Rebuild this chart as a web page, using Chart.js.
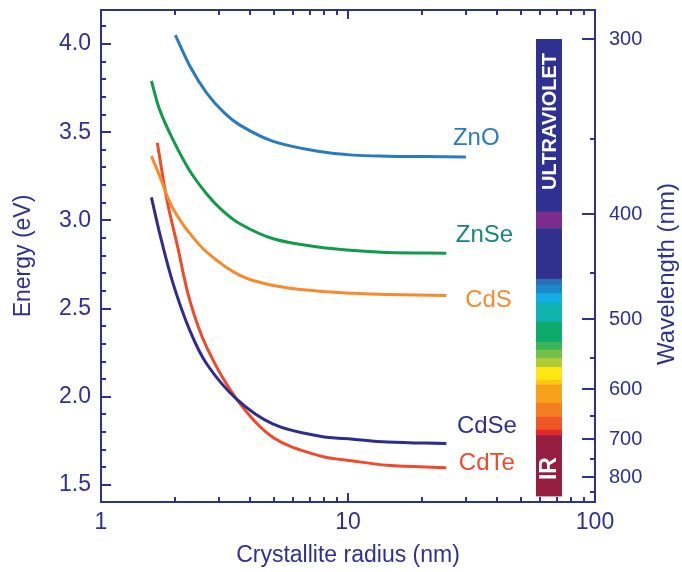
<!DOCTYPE html>
<html>
<head>
<meta charset="utf-8">
<script src="https://cdn.jsdelivr.net/npm/chart.js@4.4.1/dist/chart.umd.min.js"></script>
<style>
  html, body { margin: 0; padding: 0; background: #fff; }
  #chart { display: block; }
</style>
</head>
<body>
<canvas id="chart" width="682" height="572"></canvas>
<script>
const AXIS_COLOR = '#2e3192';
const FONT = "'Liberation Sans', Arial, sans-serif";

// band gap energy (eV) vs crystallite radius (nm)
const znoRadius = [2.0, 2.3, 2.68, 3.13, 3.65, 4.98, 7.7, 10.5, 14.4, 20, 30];
const znoEnergy = [4.05, 3.87, 3.722, 3.615, 3.54, 3.448, 3.39, 3.37, 3.364, 3.362, 3.36];

const znseRadius = [1.6, 1.73, 1.96, 2.29, 2.68, 3.08, 3.65, 4.98, 7.7, 10.5, 14.4, 25];
const znseEnergy = [3.79, 3.625, 3.455, 3.28, 3.15, 3.06, 2.981, 2.896, 2.848, 2.83, 2.818, 2.814];

const cdsRadius = [1.6, 1.73, 1.85, 1.96, 2.22, 2.68, 3.65, 4.98, 7.7, 10.5, 14.4, 25];
const cdsEnergy = [3.364, 3.25, 3.14, 3.065, 2.95, 2.82, 2.688, 2.631, 2.598, 2.587, 2.58, 2.574];

const cdseRadius = [1.6, 1.73, 1.96, 2.29, 2.68, 3.54, 4.98, 7.7, 10.5, 14.4, 25];
const cdseEnergy = [3.13, 2.924, 2.64, 2.375, 2.186, 1.987, 1.845, 1.776, 1.76, 1.744, 1.735];

const cdteRadius = [1.69, 1.85, 2.03, 2.29, 2.68, 3.54, 4.98, 7.7, 10.5, 14.4, 25];
const cdteEnergy = [3.44, 3.114, 2.868, 2.545, 2.28, 1.987, 1.769, 1.665, 1.636, 1.612, 1.598];

const materialNames = ['ZnO', 'ZnSe', 'CdS', 'CdSe', 'CdTe'];
const lineColors = ['#2a7ac0', '#0f9b4a', '#f78a2c', '#2f2c8e', '#f04a2a'];
const labelColors = ['#2a7ac0', '#15877f', '#f78a2c', '#2e3192', '#f04a2a'];
const labelRadius = [26.6, 27.3, 29.8, 27.6, 28.1];
const labelEnergy = [3.463, 2.915, 2.545, 1.835, 1.625];

// axis ticks
const radiusLabels = [1, 10, 100];
const radiusMinor = [2, 3, 4, 5, 6, 7, 8, 9, 20, 30, 40, 50, 60, 70, 80, 90];
const energyMajor = [1.5, 2.0, 2.5, 3.0, 3.5, 4.0];
const energyMinor = [1.6, 1.7, 1.8, 1.9, 2.1, 2.2, 2.3, 2.4, 2.6, 2.7, 2.8, 2.9, 3.1, 3.2, 3.3, 3.4, 3.6, 3.7, 3.8, 3.9, 4.1];
const wavelengthMajor = [300, 400, 500, 600, 700, 800];
const wavelengthMinor = [350, 450, 550, 650, 750, 850];

// spectrum bar (wavelength bands, nm)
const spectrumFrom = [300, 398, 411, 456, 462, 471, 481, 503, 528, 539, 551, 564, 584, 592, 624, 651, 678, 690];
const spectrumTo = [398, 411, 456, 462, 471, 481, 503, 528, 539, 551, 564, 584, 592, 624, 651, 678, 690, 862];
const spectrumColors = ['#2e3192', '#7b2d8e', '#30308f', '#2d6db3', '#1a88ca', '#13aee4', '#10b3ad', '#0eaa6c',
    '#3cb45a', '#74bf44', '#b1cb36', '#ffe70f', '#fdc816', '#f8a21c', '#f47e22', '#ef5726', '#e4292b', '#951d3f'];
const spectrumRadius = [57.7, 73.5];

const radiusSeries = [znoRadius, znseRadius, cdsRadius, cdseRadius, cdteRadius];
const energySeries = [znoEnergy, znseEnergy, cdsEnergy, cdseEnergy, cdteEnergy];

const toWavenumber = (nm) => 1000 / nm;

const datasets = materialNames.map((name, i) => ({
    label: name,
    data: radiusSeries[i].map((r, k) => ({ x: r, y: energySeries[i][k] })),
    borderColor: lineColors[i],
    borderWidth: 3,
    pointRadius: 0,
    fill: false,
    tension: 0.35,
    yAxisID: 'y'
}));

const spectrumPlugin = {
    id: 'spectrum',
    beforeDatasetsDraw(chart) {
        const { ctx, scales: { x, y2 } } = chart;
        const left = x.getPixelForValue(spectrumRadius[0]);
        const right = x.getPixelForValue(spectrumRadius[1]);
        ctx.save();
        spectrumColors.forEach((color, i) => {
            const top = y2.getPixelForValue(toWavenumber(spectrumFrom[i]));
            const bottom = y2.getPixelForValue(toWavenumber(spectrumTo[i]));
            ctx.fillStyle = color;
            ctx.fillRect(left, top, right - left, bottom - top + 0.5);
        });
        const cx = (left + right) / 2;
        ctx.fillStyle = '#ffffff';
        ctx.textAlign = 'center';
        ctx.textBaseline = 'middle';
        [['ULTRAVIOLET', 340, 20], ['IR', 775, 23]].forEach(([text, nm, size]) => {
            ctx.save();
            ctx.translate(cx + 1, y2.getPixelForValue(toWavenumber(nm)));
            ctx.rotate(-Math.PI / 2);
            ctx.font = `bold ${size}px ${FONT}`;
            ctx.fillText(text, 0, 0);
            ctx.restore();
        });
        ctx.restore();
    }
};

const framePlugin = {
    id: 'frame',
    afterDraw(chart) {
        const { ctx, chartArea: a, scales: { x, y, y2 } } = chart;
        ctx.save();
        ctx.strokeStyle = AXIS_COLOR;
        ctx.lineWidth = 2;

        ctx.beginPath();
        ctx.moveTo(a.left - 1, a.top);
        ctx.lineTo(a.right + 1, a.top);
        ctx.stroke();

        ctx.beginPath();
        radiusMinor.concat([10]).forEach((v) => {
            const len = v === 10 ? 9 : 5;
            const px = Math.round(x.getPixelForValue(v));
            ctx.moveTo(px, a.bottom);
            ctx.lineTo(px, a.bottom - len);
            ctx.moveTo(px, a.top);
            ctx.lineTo(px, a.top + len);
        });
        ctx.stroke();

        ctx.beginPath();
        energyMajor.forEach((v) => {
            const py = Math.round(y.getPixelForValue(v));
            ctx.moveTo(a.left, py);
            ctx.lineTo(a.left + 10, py);
        });
        energyMinor.forEach((v) => {
            const py = Math.round(y.getPixelForValue(v));
            ctx.moveTo(a.left, py);
            ctx.lineTo(a.left + 5, py);
        });
        wavelengthMajor.forEach((nm) => {
            const py = Math.round(y2.getPixelForValue(toWavenumber(nm)));
            ctx.moveTo(a.right, py);
            ctx.lineTo(a.right - 13, py);
        });
        wavelengthMinor.forEach((nm) => {
            const py = Math.round(y2.getPixelForValue(toWavenumber(nm)));
            ctx.moveTo(a.right, py);
            ctx.lineTo(a.right - 5, py);
        });
        ctx.stroke();

        // curve labels
        ctx.font = `24px ${FONT}`;
        ctx.textAlign = 'left';
        ctx.textBaseline = 'middle';
        materialNames.forEach((name, i) => {
            ctx.fillStyle = labelColors[i];
            ctx.fillText(name, x.getPixelForValue(labelRadius[i]), y.getPixelForValue(labelEnergy[i]));
        });

        // right axis title, reading bottom to top
        ctx.save();
        ctx.translate(667, 274);
        ctx.rotate(-Math.PI / 2);
        ctx.textAlign = 'center';
        ctx.fillStyle = AXIS_COLOR;
        ctx.font = `24px ${FONT}`;
        ctx.fillText('Wavelength (nm)', 0, 0);
        ctx.restore();
        ctx.restore();
    }
};

const fixVertical = (width) => (scale) => {
    scale.width = width;
    scale.paddingTop = 0;
    scale.paddingBottom = 0;
};

new Chart(document.getElementById('chart'), {
    type: 'line',
    data: { datasets },
    plugins: [spectrumPlugin, framePlugin],
    options: {
        responsive: false,
        animation: false,
        layout: { padding: { top: 10, left: 0, right: 0, bottom: 0 } },
        plugins: {
            legend: { display: false },
            tooltip: { enabled: false }
        },
        scales: {
            x: {
                type: 'logarithmic',
                position: 'bottom',
                min: 1,
                max: 100,
                grid: { display: false, drawTicks: false },
                border: { display: true, color: AXIS_COLOR, width: 2 },
                afterBuildTicks: (scale) => {
                    scale.ticks = radiusLabels.map((v) => ({ value: v }));
                },
                afterFit: (scale) => {
                    scale.height = 70;
                    scale.paddingLeft = 0;
                    scale.paddingRight = 0;
                },
                ticks: {
                    autoSkip: false,
                    maxRotation: 0,
                    padding: 7,
                    color: AXIS_COLOR,
                    font: { family: FONT, size: 23 },
                    callback: (value) => String(value)
                },
                title: {
                    display: true,
                    text: 'Crystallite radius (nm)',
                    color: AXIS_COLOR,
                    font: { family: FONT, size: 23 },
                    padding: { top: 0, bottom: 3 }
                }
            },
            y: {
                type: 'linear',
                position: 'left',
                min: 1.4036,
                max: 4.1927,
                grid: { display: false, drawTicks: false },
                border: { display: true, color: AXIS_COLOR, width: 2 },
                afterBuildTicks: (scale) => {
                    scale.ticks = energyMajor.map((v) => ({ value: v }));
                },
                afterFit: fixVertical(101),
                ticks: {
                    padding: 10,
                    color: AXIS_COLOR,
                    font: { family: FONT, size: 23 },
                    callback: (value) => Number(value).toFixed(1)
                },
                title: {
                    display: true,
                    text: 'Energy (eV)',
                    color: AXIS_COLOR,
                    font: { family: FONT, size: 23 },
                    padding: { top: 10, bottom: 0 }
                }
            },
            y2: {
                type: 'linear',
                position: 'right',
                min: 1.1311,
                max: 3.4713,
                grid: { display: false, drawTicks: false },
                border: { display: true, color: AXIS_COLOR, width: 2 },
                afterBuildTicks: (scale) => {
                    scale.ticks = wavelengthMajor.map((nm) => ({ value: toWavenumber(nm) }));
                },
                afterFit: fixVertical(87),
                ticks: {
                    padding: 14,
                    color: AXIS_COLOR,
                    font: { family: FONT, size: 20 },
                    callback: (value) => String(Math.round(1000 / value))
                }
            }
        }
    }
});
</script>
</body>
</html>
